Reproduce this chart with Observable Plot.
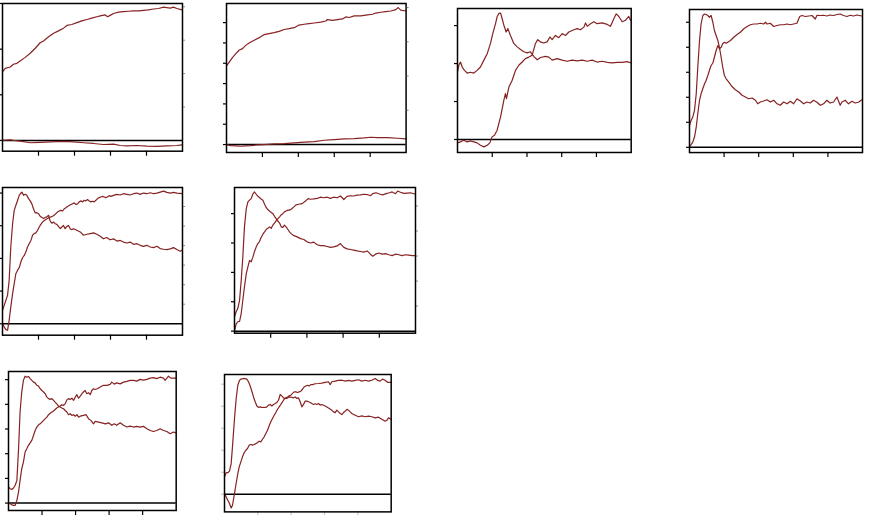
<!DOCTYPE html>
<html><head><meta charset="utf-8">
<script src="https://cdn.jsdelivr.net/npm/d3@7"></script>
<script src="https://cdn.jsdelivr.net/npm/@observablehq/plot@0.6"></script>
<style>
html,body{margin:0;padding:0;background:#fff;}
#wrap{position:relative;width:870px;height:515px;overflow:hidden;background:#fff;}
#wrap > div{position:absolute;}
svg{overflow:visible;}
</style>
</head><body><div id="wrap"></div>
<script>
// ---- data: each series as [x, y] pairs (x: 0..100, y: left-axis units) ----
const xTicks = [20, 40, 60, 80];

const p1Upper = [[0,1.50],[1.5,1.58],[4.3,1.61],[6.1,1.67],[8.0,1.69],[9.8,1.74],[12.6,1.82],[15.4,1.91],[18.2,2.02],[20.9,2.14],[22.8,2.18],[25.6,2.27],[28.4,2.35],[31.1,2.40],[33.9,2.46],[35.8,2.52],[38.5,2.54],[41.3,2.58],[44.1,2.62],[46.9,2.65],[49.6,2.68],[52.4,2.71],[54.3,2.73],[57.1,2.75],[58.4,2.71],[59.8,2.74],[61.7,2.78],[64.5,2.81],[67.2,2.82],[70.0,2.83],[72.8,2.84],[75.6,2.84],[78.3,2.85],[81.1,2.86],[83.9,2.88],[86.7,2.89],[89.5,2.92],[91.3,2.91],[93.2,2.90],[95.0,2.92],[96.9,2.89],[99.7,2.86]];
const p1Lower = [[0,0],[4.3,0.015],[6.1,0],[9.8,-0.015],[15.4,-0.05],[20.9,-0.04],[26.5,-0.03],[33.9,-0.022],[39.5,-0.03],[45,-0.05],[50.6,-0.066],[56.1,-0.088],[61.7,-0.08],[65.4,-0.11],[69.1,-0.117],[74.7,-0.11],[80.2,-0.125],[85.8,-0.13],[91.3,-0.117],[96.9,-0.11],[99.7,-0.095]];

const p2Upper = [[0,3.87],[1.5,4.06],[3.3,4.28],[5.2,4.47],[7.0,4.64],[8.9,4.72],[10.7,4.88],[12.6,5.00],[15.4,5.13],[18.2,5.26],[21.0,5.41],[23.7,5.46],[26.5,5.51],[29.3,5.57],[32.1,5.66],[34.9,5.70],[37.7,5.75],[40.4,5.88],[43.2,5.92],[46.0,5.95],[48.8,5.98],[52.5,6.02],[55.3,6.08],[56.2,6.15],[59.0,6.11],[61.8,6.15],[64.6,6.18],[66.4,6.28],[68.3,6.25],[71.1,6.33],[74.8,6.33],[78.5,6.38],[81.3,6.41],[83.1,6.47],[85.9,6.51],[88.7,6.54],[91.5,6.57],[94.3,6.64],[95.6,6.74],[97.0,6.61],[99.8,6.57]];
const p2Lower = [[0,0],[2.4,-0.05],[5.2,-0.066],[7.9,-0.082],[10.7,-0.066],[13.5,-0.05],[17.2,-0.016],[21.0,0],[26.5,0.033],[32.1,0.049],[37.7,0.082],[43.2,0.115],[48.8,0.148],[54.4,0.213],[59.9,0.246],[65.5,0.279],[71.1,0.295],[76.7,0.328],[80.4,0.36],[84.1,0.344],[89.7,0.344],[95.2,0.311],[99.8,0.279]];

const p3Hump = [[0,1.78],[0.8,1.96],[1.7,2.04],[2.7,1.91],[4.0,1.82],[5.6,1.75],[7.5,1.77],[9.4,1.75],[11.3,1.82],[13.2,1.91],[15.2,2.09],[17.1,2.26],[19.0,2.53],[20.3,2.79],[21.9,3.05],[22.8,3.23],[23.8,3.32],[24.8,3.33],[25.7,3.18],[26.7,3.01],[28.0,2.83],[29.0,2.92],[30.5,2.74],[32.4,2.53],[34.4,2.44],[36.3,2.37],[38.2,2.31],[40.1,2.28],[42.0,2.31],[43.9,2.19],[45.9,2.10],[47.8,2.16],[50.7,2.19],[52.6,2.17],[54.5,2.09],[57.4,2.13],[60.3,2.09],[63.1,2.06],[66.0,2.09],[68.9,2.07],[71.8,2.09],[74.7,2.06],[77.5,2.09],[80.4,2.04],[83.3,2.06],[86.2,2.03],[89.0,2.02],[91.9,2.03],[94.8,2.03],[97.7,2.05],[99.6,2.02]];
const p3Rise = [[0,-0.089],[1.7,-0.062],[3.6,-0.018],[5.6,-0.062],[7.5,-0.036],[9.4,-0.062],[11.3,-0.089],[13.2,-0.15],[15.2,-0.194],[17.1,-0.15],[18.6,-0.089],[19.9,0.069],[21.3,0.113],[22.8,0.245],[24.8,0.596],[26.7,1.034],[27.6,1.21],[28.2,1.078],[29.6,1.385],[31.5,1.56],[33.4,1.82],[35.3,1.955],[37.2,2.04],[39.1,2.13],[41.1,2.17],[43.0,2.22],[44.9,2.53],[46.2,2.63],[47.8,2.57],[49.7,2.54],[51.6,2.57],[53.2,2.70],[54.5,2.63],[56.4,2.74],[58.3,2.68],[60.3,2.79],[62.2,2.74],[64.1,2.83],[67.0,2.89],[68.9,2.92],[70.8,2.89],[72.8,2.96],[73.7,3.07],[74.7,2.98],[76.6,3.05],[78.5,3.10],[80.4,3.05],[83.3,3.07],[86.2,3.03],[88.1,2.98],[90.0,3.18],[91.4,3.31],[92.9,3.24],[94.8,3.10],[96.7,3.14],[98.6,3.24],[99.6,3.14]];

const p4Hump = [[0,0.88],[1.0,1.08],[1.9,1.21],[2.9,1.48],[3.9,2.14],[4.8,3.21],[5.8,4.27],[6.7,4.93],[7.7,5.27],[8.7,5.33],[9.6,5.31],[10.6,5.27],[11.5,5.20],[12.5,5.27],[13.5,5.00],[14.4,4.67],[15.4,4.47],[16.4,4.27],[17.3,4.00],[18.3,3.60],[19.2,3.21],[20.2,2.87],[21.2,2.74],[22.7,2.61],[24.6,2.43],[26.5,2.30],[28.5,2.21],[30.4,2.08],[32.3,2.01],[34.2,1.94],[36.2,1.97],[38.1,1.88],[39.4,1.74],[41.0,1.81],[42.9,1.85],[44.8,1.90],[46.7,1.81],[48.7,1.88],[50.6,1.74],[52.5,1.68],[54.4,1.81],[56.4,1.74],[58.3,1.84],[60.2,1.74],[62.1,1.94],[64.1,1.85],[66.0,1.74],[67.9,1.81],[69.8,1.77],[71.7,1.88],[73.7,1.80],[75.6,1.68],[77.5,1.74],[79.4,1.88],[81.3,1.77],[83.3,1.81],[85.2,2.01],[87.1,1.68],[88.1,1.81],[90.0,1.88],[91.9,1.74],[93.9,1.84],[95.8,1.77],[97.7,1.80],[99.6,1.90]];
const p4Rise = [[0,0.013],[1.0,0.12],[1.9,0.21],[2.9,0.41],[3.9,0.81],[4.8,1.34],[5.8,1.88],[6.7,2.14],[7.7,2.34],[8.7,2.54],[9.6,2.67],[10.6,2.87],[11.5,3.07],[12.5,3.27],[13.5,3.37],[14.4,3.60],[15.4,3.87],[16.4,4.07],[17.3,3.94],[18.3,4.00],[19.2,4.14],[20.2,4.20],[21.2,4.16],[22.1,4.20],[23.7,4.27],[25.6,4.40],[27.5,4.51],[29.4,4.60],[31.4,4.74],[33.3,4.83],[35.2,4.90],[37.1,4.93],[39.0,4.93],[41.0,4.96],[42.9,4.93],[43.9,5.00],[44.8,4.93],[46.7,4.96],[48.7,4.83],[50.6,4.87],[52.5,4.90],[54.4,4.90],[56.4,4.93],[58.3,4.90],[60.2,4.93],[62.1,4.96],[63.7,5.23],[65.0,5.27],[67.0,5.23],[68.9,5.25],[70.8,5.27],[72.7,5.13],[73.7,5.28],[75.6,5.27],[77.5,5.28],[79.4,5.25],[81.3,5.29],[83.3,5.27],[85.2,5.31],[87.1,5.33],[89.0,5.27],[91.0,5.23],[92.9,5.28],[94.8,5.25],[96.8,5.29],[99.6,5.25]];

const p5Hump = [[0,0.41],[1.0,0.57],[1.9,0.72],[2.8,0.87],[3.7,1.33],[4.6,2.35],[5.6,3.06],[6.5,3.47],[7.4,3.62],[8.4,3.78],[9.3,3.93],[10.2,4.00],[10.8,4.03],[11.7,3.93],[12.6,3.96],[13.5,3.93],[14.5,3.83],[15.4,3.76],[16.3,3.67],[17.2,3.52],[18.2,3.39],[19.1,3.40],[20.0,3.37],[20.9,3.29],[21.9,3.25],[22.8,3.22],[23.7,3.25],[24.6,3.27],[25.6,3.32],[26.5,3.14],[27.4,3.08],[28.4,3.11],[29.3,3.06],[30.2,3.04],[31.1,2.98],[32.1,2.91],[33.0,2.96],[33.9,3.01],[34.8,2.91],[35.8,2.98],[36.7,3.01],[37.6,2.91],[38.5,2.88],[39.5,2.91],[41.3,2.86],[43.2,2.81],[45.0,2.71],[46.9,2.74],[48.7,2.76],[50.6,2.78],[52.4,2.74],[54.3,2.68],[56.1,2.60],[57.9,2.64],[59.8,2.57],[61.7,2.60],[63.5,2.53],[65.4,2.55],[67.2,2.50],[69.1,2.47],[70.9,2.50],[72.8,2.43],[74.7,2.45],[76.5,2.40],[78.3,2.37],[80.2,2.40],[82.1,2.35],[83.9,2.33],[85.8,2.37],[87.6,2.30],[89.5,2.28],[91.3,2.27],[93.2,2.29],[95.0,2.33],[96.9,2.27],[98.7,2.22],[99.7,2.25]];
const p5Rise = [[0,0.005],[0.9,-0.097],[1.9,-0.18],[2.8,-0.20],[3.7,0.11],[4.6,0.51],[5.6,0.92],[6.5,1.23],[7.4,1.53],[8.4,1.64],[9.3,1.72],[10.2,1.89],[11.1,2.02],[12.1,2.09],[13.0,2.20],[13.9,2.35],[14.8,2.45],[15.8,2.55],[16.7,2.71],[17.6,2.76],[18.5,2.78],[19.5,2.86],[20.4,2.96],[21.3,3.04],[22.2,3.11],[23.2,3.16],[24.1,3.19],[25.0,3.22],[25.9,3.25],[26.9,3.27],[27.8,3.29],[28.7,3.32],[29.6,3.37],[30.6,3.42],[31.5,3.45],[32.4,3.47],[33.4,3.45],[34.3,3.52],[35.2,3.55],[36.1,3.59],[37.1,3.62],[38.0,3.65],[38.9,3.67],[39.8,3.70],[40.8,3.65],[41.7,3.67],[42.6,3.73],[43.5,3.76],[44.5,3.73],[45.4,3.78],[46.3,3.76],[47.2,3.80],[48.2,3.76],[49.1,3.73],[50.0,3.75],[50.9,3.73],[51.9,3.78],[52.8,3.83],[53.7,3.86],[54.6,3.88],[55.6,3.90],[56.5,3.88],[57.4,3.86],[58.3,3.88],[59.3,3.92],[60.2,3.90],[61.7,3.93],[63.5,3.96],[65.4,3.94],[67.2,3.98],[69.1,3.96],[70.9,3.94],[72.8,3.98],[74.7,4.00],[76.5,3.96],[78.3,4.00],[80.2,3.98],[82.1,4.01],[83.9,3.98],[85.8,4.00],[87.6,4.03],[89.5,4.06],[91.3,4.02],[93.2,4.00],[95.0,4.02],[96.9,4.00],[99.7,3.98]];

const p6Hump = [[0,0.49],[0.9,0.66],[1.8,0.77],[2.8,1.05],[3.7,1.73],[4.6,2.53],[5.5,3.55],[6.5,4.17],[7.4,4.40],[8.3,4.46],[9.2,4.51],[10.1,4.66],[11.0,4.74],[12.0,4.66],[12.9,4.59],[13.8,4.55],[14.7,4.50],[15.7,4.46],[16.6,4.32],[17.5,4.21],[18.4,4.14],[19.3,4.09],[20.3,4.04],[21.2,4.00],[22.1,3.91],[23.0,3.83],[23.9,3.75],[24.9,3.68],[25.8,3.55],[26.7,3.53],[27.6,3.61],[28.5,3.55],[29.5,3.46],[30.4,3.38],[31.3,3.32],[32.8,3.25],[34.6,3.21],[36.5,3.15],[38.3,3.12],[40.1,3.04],[42.0,3.00],[43.8,3.03],[45.7,2.94],[47.5,2.91],[49.3,2.91],[51.2,2.88],[53.0,2.85],[54.8,2.87],[56.7,2.90],[58.5,2.98],[60.4,2.85],[62.2,2.80],[64.1,2.78],[65.9,2.76],[67.7,2.73],[69.6,2.71],[71.4,2.69],[73.3,2.73],[75.1,2.62],[76.4,2.55],[77.9,2.62],[79.7,2.66],[81.6,2.62],[83.4,2.64],[85.3,2.60],[87.1,2.57],[88.9,2.62],[90.8,2.60],[92.6,2.57],[94.5,2.60],[96.3,2.59],[98.2,2.57],[100,2.57]];
const p6Rise = [[0,0.01],[0.9,0.24],[1.8,0.32],[2.8,0.33],[3.7,0.60],[4.6,1.05],[5.5,1.51],[6.5,1.96],[7.4,2.19],[8.3,2.41],[9.2,2.36],[10.1,2.51],[11.0,2.70],[12.0,2.87],[12.9,2.98],[13.8,3.05],[14.7,3.19],[15.7,3.30],[16.6,3.38],[17.5,3.46],[18.4,3.50],[19.3,3.55],[20.3,3.50],[21.2,3.61],[22.1,3.68],[23.0,3.75],[23.9,3.82],[24.9,3.89],[25.8,3.96],[26.7,4.00],[27.6,4.06],[28.5,4.09],[29.5,4.12],[30.4,4.12],[31.3,4.15],[32.8,4.23],[34.0,4.30],[35.5,4.32],[37.4,4.34],[39.2,4.43],[40.7,4.51],[42.0,4.49],[43.8,4.50],[45.7,4.52],[47.5,4.56],[49.3,4.54],[51.2,4.56],[53.0,4.52],[54.8,4.56],[56.7,4.54],[58.5,4.60],[60.4,4.48],[62.2,4.59],[64.1,4.61],[65.9,4.60],[67.7,4.63],[69.6,4.64],[71.4,4.66],[73.3,4.65],[75.1,4.61],[76.4,4.68],[78.2,4.71],[80.1,4.67],[81.9,4.64],[83.8,4.68],[85.6,4.71],[87.1,4.74],[88.9,4.68],[90.2,4.77],[91.7,4.73],[93.6,4.69],[95.4,4.70],[97.2,4.71],[100,4.66]];

const p7Hump = [[0,0.65],[1.0,0.58],[2.0,0.55],[3.0,0.61],[4.0,0.72],[5.0,0.92],[6.0,2.20],[6.9,3.69],[7.9,4.50],[8.9,4.97],[9.9,5.14],[10.9,5.10],[11.9,5.13],[12.9,5.04],[13.9,4.97],[14.9,4.90],[15.9,4.87],[16.9,4.77],[17.9,4.74],[18.9,4.63],[19.9,4.56],[20.9,4.50],[21.9,4.43],[22.9,4.29],[23.9,4.23],[24.9,4.20],[25.9,4.23],[26.9,4.16],[27.8,4.09],[28.8,4.02],[29.8,3.93],[30.8,3.89],[31.8,3.85],[32.8,3.82],[33.8,3.75],[34.8,3.69],[35.8,3.58],[36.8,3.62],[37.8,3.55],[38.8,3.58],[39.8,3.52],[40.8,3.58],[41.8,3.48],[42.8,3.52],[44.7,3.55],[46.3,3.58],[47.7,3.42],[49.1,3.35],[50.7,3.21],[51.7,3.31],[53.7,3.28],[55.7,3.25],[57.7,3.21],[59.7,3.25],[61.6,3.15],[63.0,3.21],[64.6,3.15],[66.6,3.25],[68.6,3.15],[70.6,3.08],[72.5,3.12],[74.5,3.08],[76.5,3.11],[78.5,3.08],[80.5,3.11],[82.5,3.01],[84.5,2.94],[86.4,2.90],[88.4,2.94],[90.4,3.01],[92.4,2.94],[94.4,2.90],[96.4,2.81],[98.4,2.88],[100,2.84]];
const p7Rise = [[0,0],[1.0,-0.03],[2.0,-0.07],[3.0,-0.09],[4.0,-0.09],[5.0,0.11],[6.0,0.45],[6.9,0.92],[7.9,1.39],[8.9,1.66],[9.9,2.07],[10.9,2.20],[11.9,2.34],[12.9,2.44],[13.9,2.54],[14.9,2.74],[15.9,2.94],[16.9,3.08],[17.9,3.17],[18.9,3.21],[19.9,3.28],[20.9,3.35],[21.9,3.42],[22.9,3.48],[23.9,3.58],[24.9,3.64],[25.9,3.69],[26.9,3.73],[27.8,3.79],[28.8,3.85],[29.8,3.89],[30.8,3.93],[31.8,3.98],[32.8,3.96],[33.8,4.02],[34.8,4.18],[35.8,4.23],[36.8,4.20],[37.8,4.25],[38.8,4.16],[39.8,4.29],[40.8,4.39],[41.8,4.25],[42.8,4.33],[43.8,4.43],[44.7,4.50],[45.7,4.56],[46.7,4.43],[47.7,4.47],[48.7,4.39],[49.7,4.56],[50.7,4.63],[51.7,4.60],[53.1,4.63],[54.7,4.70],[56.7,4.77],[58.7,4.77],[60.6,4.81],[61.6,4.90],[63.0,4.82],[64.6,4.87],[66.6,4.83],[68.6,4.90],[70.6,4.93],[72.5,4.97],[74.5,4.97],[76.5,4.94],[78.5,5.01],[80.5,4.98],[82.5,5.01],[84.5,5.06],[86.4,5.08],[88.4,5.04],[90.4,5.10],[92.4,5.06],[93.4,4.97],[95.4,5.14],[96.8,5.06],[98.4,5.06],[100,5.06]];

const p8Hump = [[0,0.79],[1.0,0.98],[2.0,0.98],[3.0,1.05],[4.0,1.39],[5.0,2.38],[6.0,3.44],[7.0,4.35],[8.0,4.95],[9.0,5.18],[10.0,5.23],[11.4,5.26],[13.4,5.23],[14.4,5.11],[15.4,4.92],[16.4,4.68],[17.4,4.42],[18.4,4.20],[19.4,4.01],[20.4,3.95],[21.4,3.97],[22.4,3.94],[23.4,3.95],[24.4,3.94],[25.4,3.97],[26.4,4.05],[27.4,4.08],[28.4,4.01],[29.4,4.08],[30.4,4.12],[31.4,4.17],[32.4,4.27],[33.4,4.53],[34.4,4.47],[35.4,4.38],[36.4,4.35],[37.4,4.35],[38.4,4.41],[39.4,4.42],[40.4,4.40],[41.4,4.38],[42.4,4.42],[43.4,4.35],[44.4,4.38],[45.4,4.20],[46.4,3.97],[47.4,4.08],[48.4,4.23],[49.4,4.23],[50.4,4.20],[51.4,4.17],[52.4,4.12],[53.4,4.08],[54.4,4.11],[55.4,4.08],[56.4,4.12],[57.4,4.05],[58.4,4.08],[60.4,4.01],[62.4,3.92],[64.4,3.82],[65.4,3.74],[66.4,3.71],[67.4,3.82],[68.4,3.74],[69.4,3.67],[70.4,3.62],[71.4,3.71],[72.4,3.77],[73.4,3.86],[74.4,3.82],[75.4,3.74],[76.4,3.67],[78.4,3.59],[80.4,3.52],[82.4,3.56],[84.4,3.52],[86.4,3.55],[88.4,3.52],[90.4,3.47],[92.4,3.50],[94.4,3.41],[96.4,3.32],[97.4,3.36],[98.4,3.47],[100,3.41]];
const p8Rise = [[0,0.03],[1.0,-0.12],[2.0,-0.27],[3.0,-0.42],[4.0,-0.62],[4.8,-0.50],[5.8,-0.05],[6.8,0.41],[7.8,0.86],[8.8,1.24],[9.8,1.47],[10.8,1.70],[11.8,1.89],[12.8,2.00],[13.8,2.08],[14.8,2.23],[15.8,2.26],[16.8,2.23],[17.8,2.26],[18.8,2.30],[19.8,2.35],[20.8,2.41],[21.8,2.38],[22.8,2.50],[23.8,2.61],[24.8,2.76],[25.8,2.91],[26.8,3.11],[27.8,3.29],[28.8,3.44],[29.8,3.59],[30.8,3.71],[31.8,3.86],[32.8,3.97],[33.8,4.08],[34.8,4.20],[35.8,4.32],[36.8,4.38],[37.8,4.42],[38.8,4.47],[39.8,4.50],[40.8,4.58],[41.8,4.65],[42.8,4.65],[43.8,4.62],[44.8,4.65],[45.8,4.68],[46.8,4.77],[47.8,4.88],[48.8,4.92],[49.8,4.95],[50.8,4.92],[51.8,4.98],[52.8,4.98],[54.4,5.02],[56.4,5.03],[58.4,5.05],[60.4,5.08],[62.4,5.11],[63.4,4.98],[64.4,5.11],[66.4,5.14],[68.4,5.17],[70.4,5.18],[72.4,5.14],[74.4,5.17],[76.4,5.14],[78.4,5.17],[80.4,5.20],[82.4,5.14],[84.4,5.18],[86.4,5.14],[88.4,5.18],[90.4,5.26],[92.0,5.17],[93.4,5.14],[94.8,5.23],[96.4,5.18],[98.0,5.08],[100,5.08]];

// axis tick values (in left-axis units) for each panel
const p1LeftTicks = [0, 1, 2, 3];
const p1RightTicks = [0.732, 1.464, 2.196, 2.928];
const p2LeftTicks = [0, 1, 2, 3, 4, 5, 6];
const p2RightTicks = [1.685, 3.37, 5.055, 6.74];
const p3LeftTicks = [0, 1, 2, 3];
const p4LeftTicks = [0, 1, 2, 3, 4, 5];
const p5LeftTicks = [0, 1, 2, 3, 4];
const p5RightTicks = [0.598, 1.196, 1.794, 2.392, 2.99, 3.588];
const p6LeftTicks = [0, 1, 2, 3, 4];
const p6RightTicks = [0.852, 1.704, 2.556, 3.408, 4.26];
const p7LeftTicks = [0, 1, 2, 3, 4, 5];
const p8LeftTicks = [0, 1, 2, 3, 4, 5];

// ---- layout (frame boxes in page pixels) ----
const panels = [
  {a: p1Upper, b: p1Lower, y: [-0.235, 3.0], lt: p1LeftTicks, rt: p1RightTicks, box: [2.3, 3.3, 182.3, 151]},
  {a: p2Upper, b: p2Lower, y: [-0.39, 6.94], lt: p2LeftTicks, rt: p2RightTicks, box: [225.7, 3.3, 405.3, 152.3]},
  {a: p3Hump, b: p3Rise, y: [-0.342, 3.45], lt: p3LeftTicks, rt: [], box: [457, 8.3, 630.7, 152.3]},
  {a: p4Hump, b: p4Rise, y: [-0.21, 5.51], lt: p4LeftTicks, rt: [], box: [689, 9, 862.3, 152.3]},
  {a: p5Hump, b: p5Rise, y: [-0.35, 4.17], lt: p5LeftTicks, rt: p5RightTicks, box: [2.3, 187.3, 182.3, 335]},
  {a: p6Hump, b: p6Rise, y: [-0.07, 4.89], lt: p6LeftTicks, rt: p6RightTicks, box: [234, 187.3, 415, 333]},
  {a: p7Hump, b: p7Rise, y: [-0.30, 5.33], lt: p7LeftTicks, rt: [], box: [8.3, 371, 176, 510]},
  {a: p8Hump, b: p8Rise, y: [-0.80, 5.44], lt: p8LeftTicks, rt: [], box: [224.3, 374.3, 391, 511.7], faint: true}
];

const lineColor = "#862222";
const ml = 8, mr = 8, mt = 4, mb = 8;
const wrap = document.getElementById("wrap");

for (const p of panels) {
  const [L, T, R, B] = p.box;
  const tickColor = p.faint ? "#c8c8c8" : "black";
  const marks = [
    Plot.ruleY([0], {stroke: "black", strokeWidth: 1.5}),
    Plot.line(p.a, {x: d => d[0], y: d => d[1], stroke: lineColor, strokeWidth: 1.2}),
    Plot.line(p.b, {x: d => d[0], y: d => d[1], stroke: lineColor, strokeWidth: 1.2}),
    Plot.axisX({ticks: xTicks, tickSize: 5, tickFormat: () => "", label: null, stroke: tickColor, strokeWidth: 1.2}),
    Plot.axisY({ticks: p.lt, tickSize: 3, tickFormat: () => "", label: null, anchor: "left", stroke: tickColor, strokeWidth: 1.2}),
    Plot.frame({stroke: "black", strokeWidth: 1.5})
  ];
  if (p.rt.length) {
    marks.push(Plot.axisY({ticks: p.rt, tickSize: 2, tickFormat: () => "", label: null, anchor: "right", stroke: "#666", strokeWidth: 0.8}));
  }
  const chart = Plot.plot({
    width: (R - L) + ml + mr,
    height: (B - T) + mt + mb,
    marginLeft: ml, marginRight: mr, marginTop: mt, marginBottom: mb,
    x: {domain: [0, 100], axis: null},
    y: {domain: p.y, axis: null},
    style: {background: "transparent", overflow: "visible"},
    marks
  });
  const div = document.createElement("div");
  div.style.left = (L - ml) + "px";
  div.style.top = (T - mt) + "px";
  div.appendChild(chart);
  wrap.appendChild(div);
}
</script>
</body></html>
